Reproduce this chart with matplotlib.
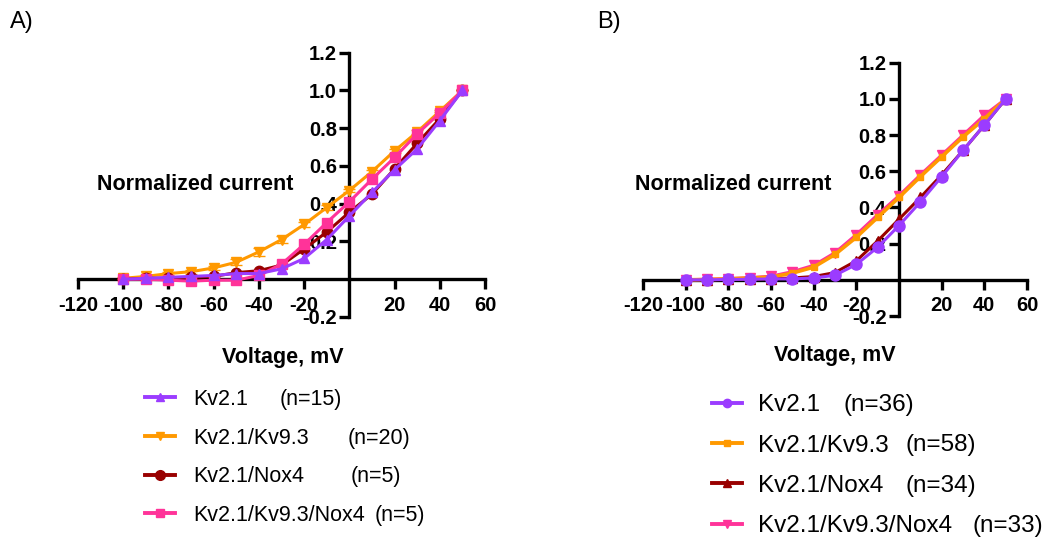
import matplotlib
matplotlib.use("Agg")
import matplotlib.pyplot as plt
from matplotlib.lines import Line2D

plt.rcParams['font.family'] = ['Liberation Sans', 'DejaVu Sans']

voltage = [-100, -90, -80, -70, -60, -50, -40, -30, -20, -10, 0, 10, 20, 30, 40, 50]

# Panel A
a_kv21 = [0.0, 0.005, 0.01, 0.015, 0.02, 0.03, 0.03, 0.055, 0.11, 0.21, 0.335, 0.46, 0.58, 0.69, 0.84, 1.0]
a_kv93 = [0.005, 0.015, 0.03, 0.04, 0.06, 0.09, 0.145, 0.21, 0.29, 0.38, 0.47, 0.57, 0.68, 0.78, 0.89, 1.0]
a_kv93_err = [0.005, 0.005, 0.01, 0.01, 0.01, 0.015, 0.02, 0.02, 0.015, 0.015, 0.01, 0.01, 0.01, 0.01, 0.005, 0.0]
a_nox4 = [0.0, 0.005, 0.005, 0.01, 0.015, 0.035, 0.045, 0.075, 0.16, 0.25, 0.355, 0.45, 0.585, 0.72, 0.85, 1.0]
a_kv93nox4 = [0.0, 0.0, -0.005, -0.01, -0.005, -0.005, 0.02, 0.08, 0.185, 0.30, 0.41, 0.53, 0.645, 0.77, 0.88, 1.0]

# Panel B
b_kv21 = [0.0, 0.0, 0.002, 0.003, 0.005, 0.005, 0.01, 0.025, 0.085, 0.18, 0.30, 0.43, 0.57, 0.715, 0.855, 1.0]
b_kv93 = [0.0, 0.002, 0.005, 0.01, 0.015, 0.037, 0.07, 0.14, 0.235, 0.345, 0.455, 0.57, 0.68, 0.79, 0.89, 1.0]
b_nox4 = [0.0, 0.0, 0.002, 0.004, 0.006, 0.01, 0.018, 0.04, 0.105, 0.215, 0.335, 0.455, 0.58, 0.715, 0.855, 1.0]
b_kv93nox4 = [0.0, 0.003, 0.007, 0.012, 0.02, 0.045, 0.08, 0.15, 0.25, 0.36, 0.465, 0.58, 0.69, 0.80, 0.91, 1.0]

names_a = ["Kv2.1", "Kv2.1/Kv9.3", "Kv2.1/Nox4", "Kv2.1/Kv9.3/Nox4"]
counts_a = ["(n=15)", "(n=20)", "(n=5)", "(n=5)"]
names_b = ["Kv2.1", "Kv2.1/Kv9.3", "Kv2.1/Nox4", "Kv2.1/Kv9.3/Nox4"]
counts_b = ["(n=36)", "(n=58)", "(n=34)", "(n=33)"]

xticks = [-120, -100, -80, -60, -40, -20, 20, 40, 60]
yticks = [-0.2, 0.2, 0.4, 0.6, 0.8, 1.0, 1.2]

PURPLE = '#9B3CFF'
ORANGE = '#FF9900'
DARKRED = '#990000'
PINK = '#FF3399'

W, H = 1044, 537
fig = plt.figure(figsize=(W / 100, H / 100), dpi=100)


def px_axes(x0, x1, y_top, y_bot):
    return fig.add_axes([x0 / W, 1 - y_bot / H, (x1 - x0) / W, (y_bot - y_top) / H])


def style_axes(ax):
    ax.set_xlim(-120, 60)
    ax.set_ylim(-0.2, 1.2)
    for s in ['top', 'right']:
        ax.spines[s].set_visible(False)
    ax.spines['left'].set_position(('data', 0))
    ax.spines['bottom'].set_position(('data', 0))
    for s in ['left', 'bottom']:
        ax.spines[s].set_linewidth(2.4)
        ax.spines[s].set_zorder(1)
    ax.set_xticks(xticks)
    ax.set_xticklabels([str(t) for t in xticks])
    ax.set_yticks(yticks)
    ax.set_yticklabels([f"{t:.1f}" for t in yticks])
    ax.tick_params(axis='both', width=2.4, length=7, labelsize=14.5, direction='out')
    ax.tick_params(axis='x', pad=5)
    ax.tick_params(axis='y', pad=2)
    for lab in ax.get_xticklabels() + ax.get_yticklabels():
        lab.set_fontweight('bold')
    ax.patch.set_alpha(0)


# Panel A
axA = px_axes(78, 485, 52.7, 317)
style_axes(axA)
axA.errorbar(voltage, a_kv93, yerr=a_kv93_err, color=ORANGE, marker='v', ms=7.5, lw=2.2, capsize=4, elinewidth=1.5, zorder=3)
axA.plot(voltage, a_nox4, color=DARKRED, marker='o', ms=7.5, lw=2.2, zorder=4)
axA.plot(voltage, a_kv93nox4, color=PINK, marker='s', ms=7, lw=2.2, zorder=5)
axA.plot(voltage, a_kv21, color=PURPLE, marker='^', ms=7.5, lw=2.2, zorder=6)

handlesA = [
    Line2D([], [], color=PURPLE, marker='^', ms=6, lw=2.8),
    Line2D([], [], color=ORANGE, marker='v', ms=6, lw=2.8),
    Line2D([], [], color=DARKRED, marker='o', ms=7, lw=2.8),
    Line2D([], [], color=PINK, marker='s', ms=6, lw=2.8),
]
legA = fig.legend(handlesA, names_a, loc='upper left', bbox_to_anchor=(145 / W, 1 - 389 / H),
                  frameon=False, fontsize=15.5, handlelength=1.4, handletextpad=0.83,
                  labelspacing=0.82, borderpad=0, borderaxespad=0)

fig.text(97 / W, 1 - 184 / H, "Normalized current", fontsize=15.5, fontweight='bold', va='center', ha='left')
fig.text(283 / W, 1 - 358 / H, "Voltage, mV", fontsize=15.5, fontweight='bold', va='center', ha='center')
fig.text(10 / W, 1 - 22 / H, "A)", fontsize=17, va='center', ha='left')

# Panel B
axB = px_axes(643, 1027, 62.7, 316)
style_axes(axB)
axB.plot(voltage, b_kv93nox4, color=PINK, marker='v', ms=6.5, lw=2.2, zorder=3)
axB.plot(voltage, b_nox4, color=DARKRED, marker='^', ms=6.5, lw=2.2, zorder=4)
axB.plot(voltage, b_kv93, color=ORANGE, marker='s', ms=4, lw=2.6, zorder=5)
axB.plot(voltage, b_kv21, color=PURPLE, marker='o', ms=8, lw=2.2, zorder=6)

handlesB = [
    Line2D([], [], color=PURPLE, marker='o', ms=6, lw=2.8),
    Line2D([], [], color=ORANGE, marker='s', ms=4, lw=2.8),
    Line2D([], [], color=DARKRED, marker='^', ms=6, lw=2.8),
    Line2D([], [], color=PINK, marker='v', ms=6, lw=2.8),
]
legB = fig.legend(handlesB, names_b, loc='upper left', bbox_to_anchor=(712 / W, 1 - 394 / H),
                  frameon=False, fontsize=17.5, handlelength=1.23, handletextpad=0.66,
                  labelspacing=0.76, borderpad=0, borderaxespad=0)

fig.text(635 / W, 1 - 184 / H, "Normalized current", fontsize=15.5, fontweight='bold', va='center', ha='left')
fig.text(835 / W, 1 - 355 / H, "Voltage, mV", fontsize=15.5, fontweight='bold', va='center', ha='center')
fig.text(597 / W, 1 - 22 / H, "B)", fontsize=17, va='center', ha='left')

# sample-size annotations, placed relative to each legend entry
fig.canvas.draw()
renderer = fig.canvas.get_renderer()
offsets_a = [87, 155, 158, 182]
offsets_b = [86, 148, 148, 215]
for leg, counts, offs, fs in [(legA, counts_a, offsets_a, 15.5), (legB, counts_b, offsets_b, 17.5)]:
    for txt, cnt, off in zip(leg.get_texts(), counts, offs):
        bb = txt.get_window_extent(renderer)
        fig.text((bb.x0 + off) / W, (bb.y0 + bb.y1) / 2 / H, cnt, fontsize=fs,
                 va='center', ha='left')

fig.savefig("out.png", dpi=100)
